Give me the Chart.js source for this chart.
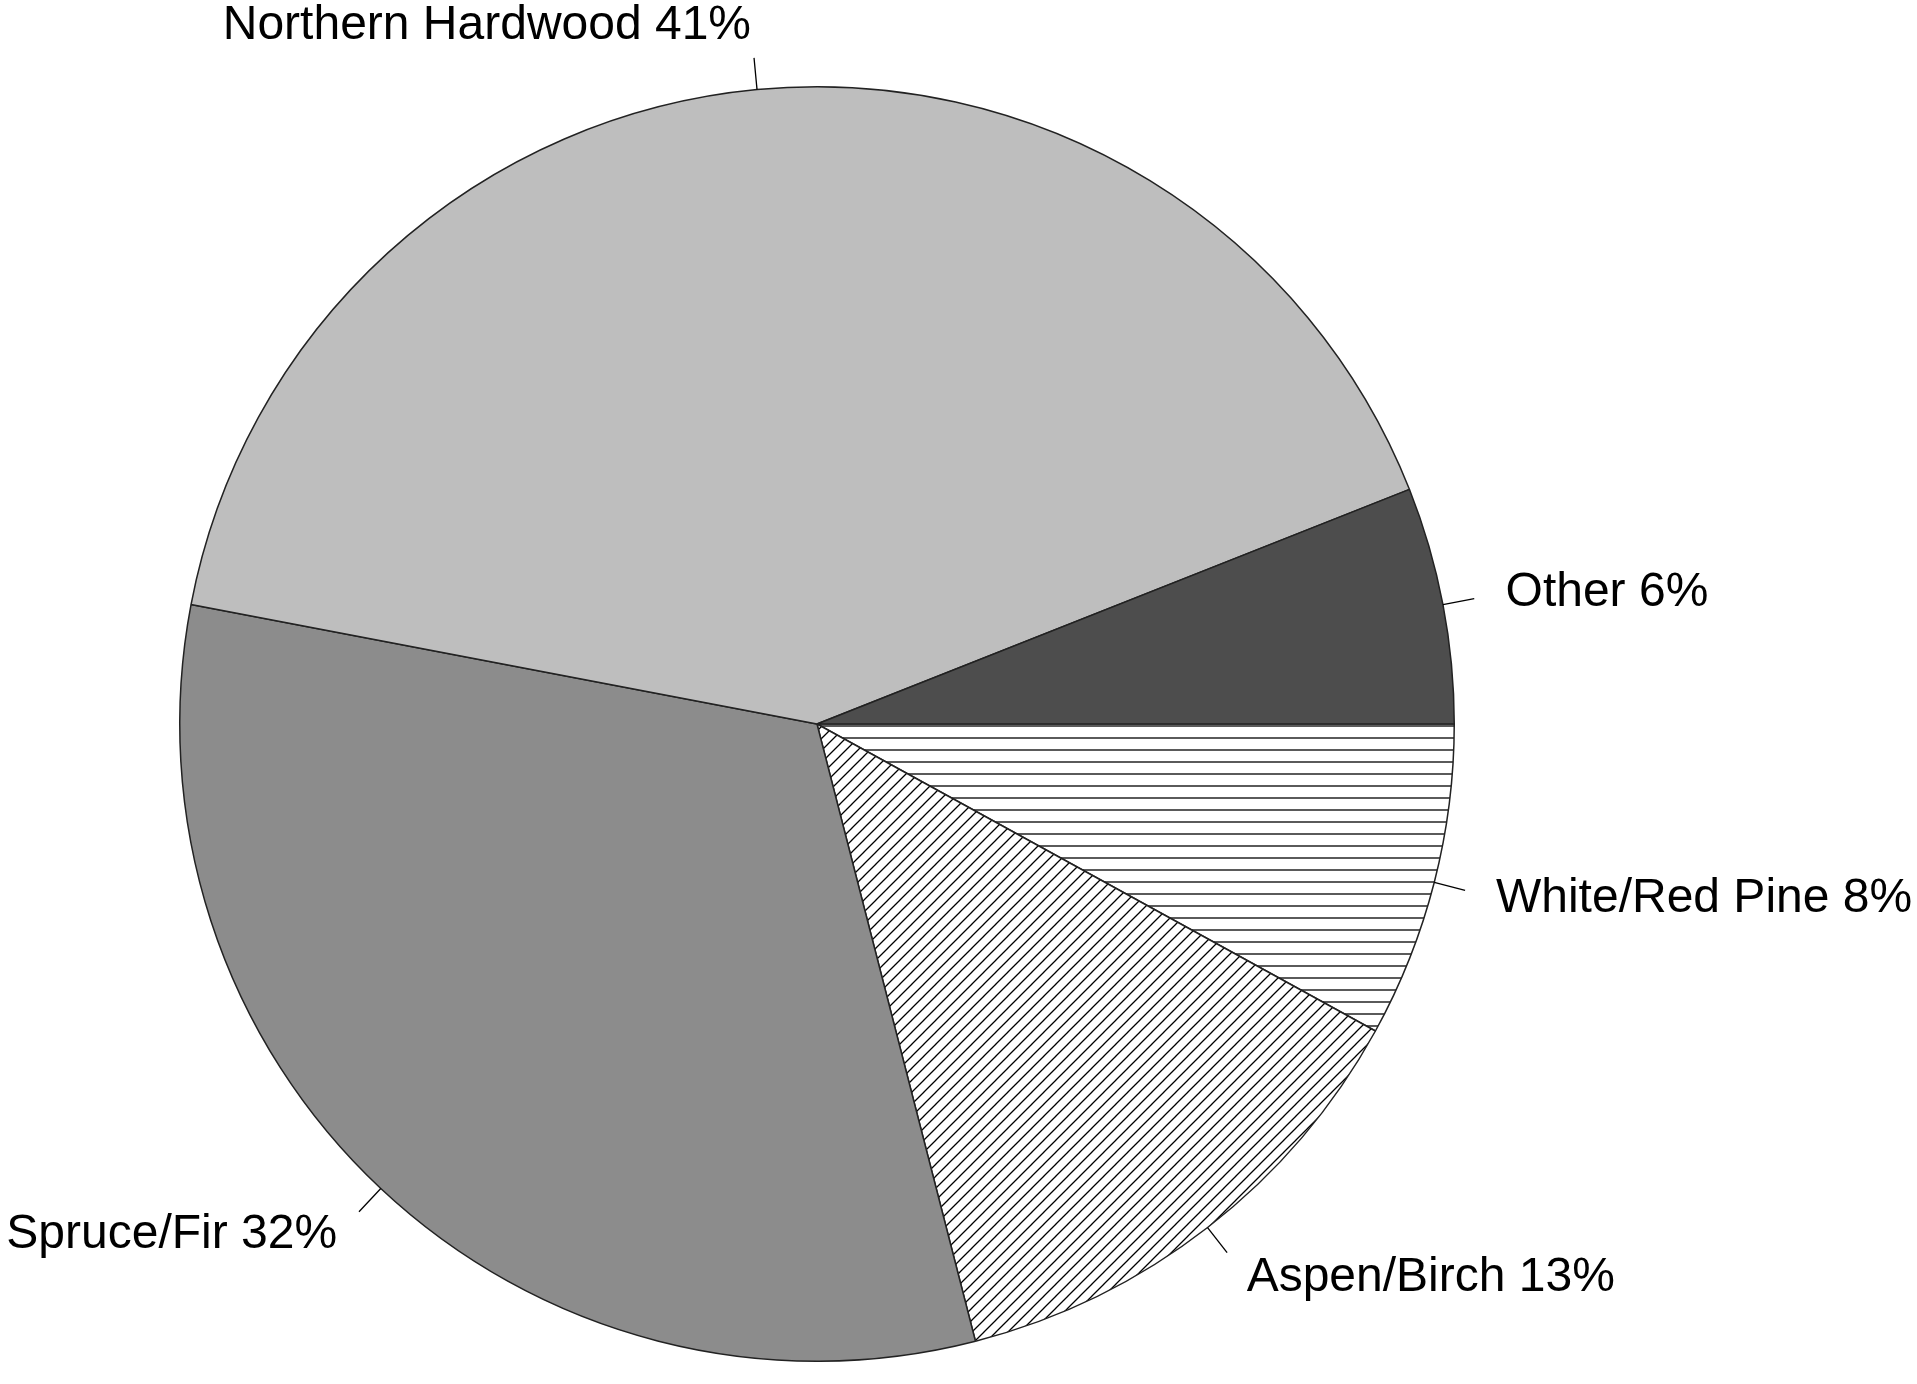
<!DOCTYPE html>
<html><head><meta charset="utf-8">
<script src="https://cdn.jsdelivr.net/npm/chart.js@4/dist/chart.umd.min.js"></script>
<style>html,body{margin:0;padding:0;background:#fff}#w{width:1917px;height:1384px}</style>
</head><body><div id="w"><canvas id="c"></canvas></div>
<script>
// clockwise from 3 o'clock (R draws counterclockwise)
const categories = ["White/Red Pine", "Aspen/Birch", "Spruce/Fir", "Northern Hardwood", "Other"];
const values = [8, 13, 32, 41, 6];
const labels = ["White/Red Pine 8%", "Aspen/Birch 13%", "Spruce/Fir 32%", "Northern Hardwood 41%", "Other 6%"];

function hatch(kind){
  const s = 12, p = document.createElement('canvas'); p.width = s; p.height = s;
  const g = p.getContext('2d'); g.fillStyle='#fff'; g.fillRect(0,0,s,s);
  g.strokeStyle='#000'; g.lineWidth=1.3;
  g.beginPath();
  if(kind==='h'){ g.moveTo(0,s/2); g.lineTo(s,s/2); }
  else { g.moveTo(-1,s+1); g.lineTo(s+1,-1); g.moveTo(-s/2-1,s/2+1); g.lineTo(s/2+1,-s/2-1); g.moveTo(s/2-1,s*1.5+1); g.lineTo(s*1.5+1,s/2-1); }
  g.stroke();
  return document.getElementById('c').getContext('2d').createPattern(p,'repeat');
}
const lbl = {
  id:'lbl',
  afterDraw(ch){
    const ctx = ch.ctx, meta = ch.getDatasetMeta(0);
    ctx.save(); ctx.font='48px "Liberation Sans", Arial, sans-serif'; ctx.fillStyle='#000';
    ctx.strokeStyle='#000'; ctx.lineWidth=1.3; ctx.textBaseline='middle';
    meta.data.forEach((a,i)=>{
      const m=(a.startAngle+a.endAngle)/2, r=a.outerRadius, c=Math.cos(m), s=Math.sin(m);
      ctx.beginPath(); ctx.moveTo(a.x+c*r,a.y+s*r); ctx.lineTo(a.x+c*r*1.05,a.y+s*r*1.05); ctx.stroke();
      ctx.textAlign = c>0?'left':'right';
      ctx.fillText(labels[i], a.x+c*r*1.1, a.y+s*r*1.1);
    });
    ctx.restore();
  }
};
new Chart(document.getElementById('c'), {
  type:'pie',
  data:{labels:categories, datasets:[{data:values,
    backgroundColor:[hatch('h'),hatch('d'),'#8c8c8c','#bebebe','#4d4d4d'],
    borderColor:'#222', borderWidth:1.5}]},
  options:{responsive:true, maintainAspectRatio:false, animation:false, rotation:90,
    layout:{padding:{top:86,bottom:22,left:179,right:462}},
    plugins:{legend:{display:false},tooltip:{enabled:false}}},
  plugins:[lbl]
});
</script></body></html>
